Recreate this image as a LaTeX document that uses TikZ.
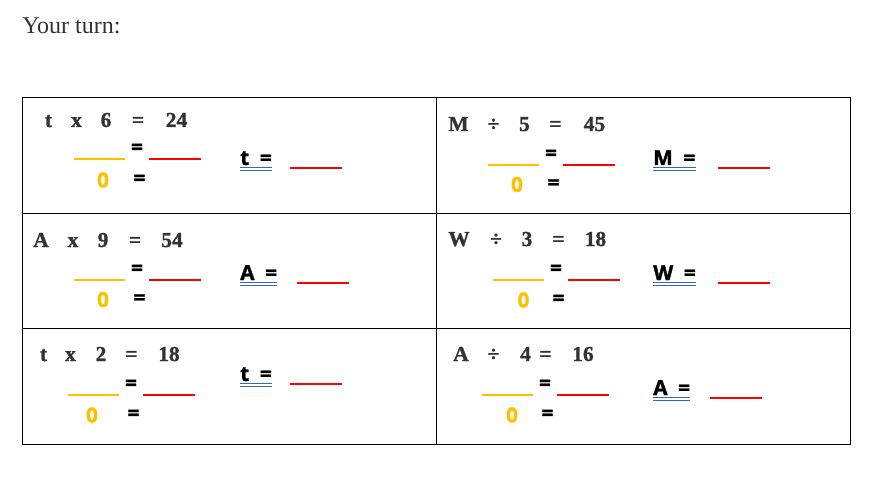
\documentclass[tikz,border=0pt]{standalone}
\usepackage{fontspec}
\setmainfont{Liberation Serif}[BoldFeatures={FakeBold=1.2}]
\newfontfamily\ansfont{Open Sans}[BoldFeatures={FakeBold=1.5}]
\usepackage{tikz}
\usetikzlibrary{calc}
\definecolor{eqgray}{HTML}{333333}
\definecolor{gold}{HTML}{FFC000}
\definecolor{ublue}{HTML}{3366CC}
\tikzset{
  eqtext/.style={inner sep=0pt,anchor=base,text=eqgray,font=\fontsize{16}{18}\selectfont\bfseries},
  anstext/.style={inner sep=0pt,font=\ansfont\fontsize{15.5}{18}\selectfont\bfseries},
  gap/.style={draw=gold,line width=2.2pt},
  blank/.style={draw=red,line width=2.2pt},
  uline/.style={draw=ublue,line width=0.7pt},
  grid/.style={draw=black,line width=0.75pt}
}

\begin{document}
\begin{tikzpicture}[x=0.75pt,y=-0.75pt]
                      \useasboundingbox (0,0) rectangle (872,485);
                      \node[anchor=base west,inner sep=0pt,text=eqgray,font=\fontsize{18}{21}\selectfont](title)at(22,34){Your turn:};
                      % table
                      \draw[grid](22,98)rectangle(850,444);
                      \draw[grid](436,98)--(436,444);
                      \foreach \y in {213,328} \draw[grid] (22,\y) -- (850,\y);
                      % equations
                      \foreach \tok/\x [count=\i] in {t/48.5,x/76.5,6/106,=/138,24/176.5} \node[eqtext](ea\i)at(\x,127){\tok};
                      \foreach \tok/\x [count=\i] in {M/458.5,÷/493.5,5/524.5,=/555.5,45/594.5} \node[eqtext](eb\i)at(\x,131){\tok};
                      \foreach \tok/\x [count=\i] in {A/41,x/73,9/103,=/135,54/172} \node[eqtext](ec\i)at(\x,247){\tok};
                      \foreach \tok/\x [count=\i] in {W/459,÷/496,3/527,=/558.5,18/595.5} \node[eqtext](ed\i)at(\x,246){\tok};
                      \foreach \tok/\x [count=\i] in {t/43.5,x/70.5,2/101,=/131.5,18/169} \node[eqtext](ee\i)at(\x,361){\tok};
                      \foreach \tok/\x [count=\i] in {A/461,÷/493.5,4/525.5,=/545.5,16/583} \node[eqtext](ef\i)at(\x,361){\tok};
                      % blanks under each equation
                      \foreach \c/\lx/\ly/\zx/\zy in {a/74/159/103/180, b/488/165/517/184.5, c/74/280/103/299.5, d/493/280/523.5/300, e/68/395/92/415, f/482/395/512/415}{
                        \draw[gap](\lx,\ly)--(\lx+51,\ly);
                        \node[anstext](eq\c)at(\lx+63,\ly-10){=};
                        \draw[blank](\lx+75,\ly)--(\lx+127,\ly);
                        \node[anstext,text=gold](zero\c)at(\zx,\zy){0};
                        \node[anstext](eqz\c)at(\lx+65.5,\zy){=};
                      }
                      % answers
                      \foreach \c/\v/\vx/\vy/\rx/\ry in {a/t/240/165/290/168, b/M/653/165/718/168, c/A/240/280/297/283, d/W/653/280/718/283, e/t/240/381/290/384, f/A/653/395/710/398}{
                        \node[anstext,anchor=base west](var\c)at(\vx,\vy){\v\ \ =};
                        \draw[uline]($(var\c.base west)+(0,2.5)$)--($(var\c.base east)+(0,2.5)$);
                        \draw[uline]($(var\c.base west)+(0,5.5)$)--($(var\c.base east)+(0,5.5)$);
                        \draw[blank](\rx,\ry)--(\rx+52,\ry);
                      }
                  \end{tikzpicture}
\end{document}
